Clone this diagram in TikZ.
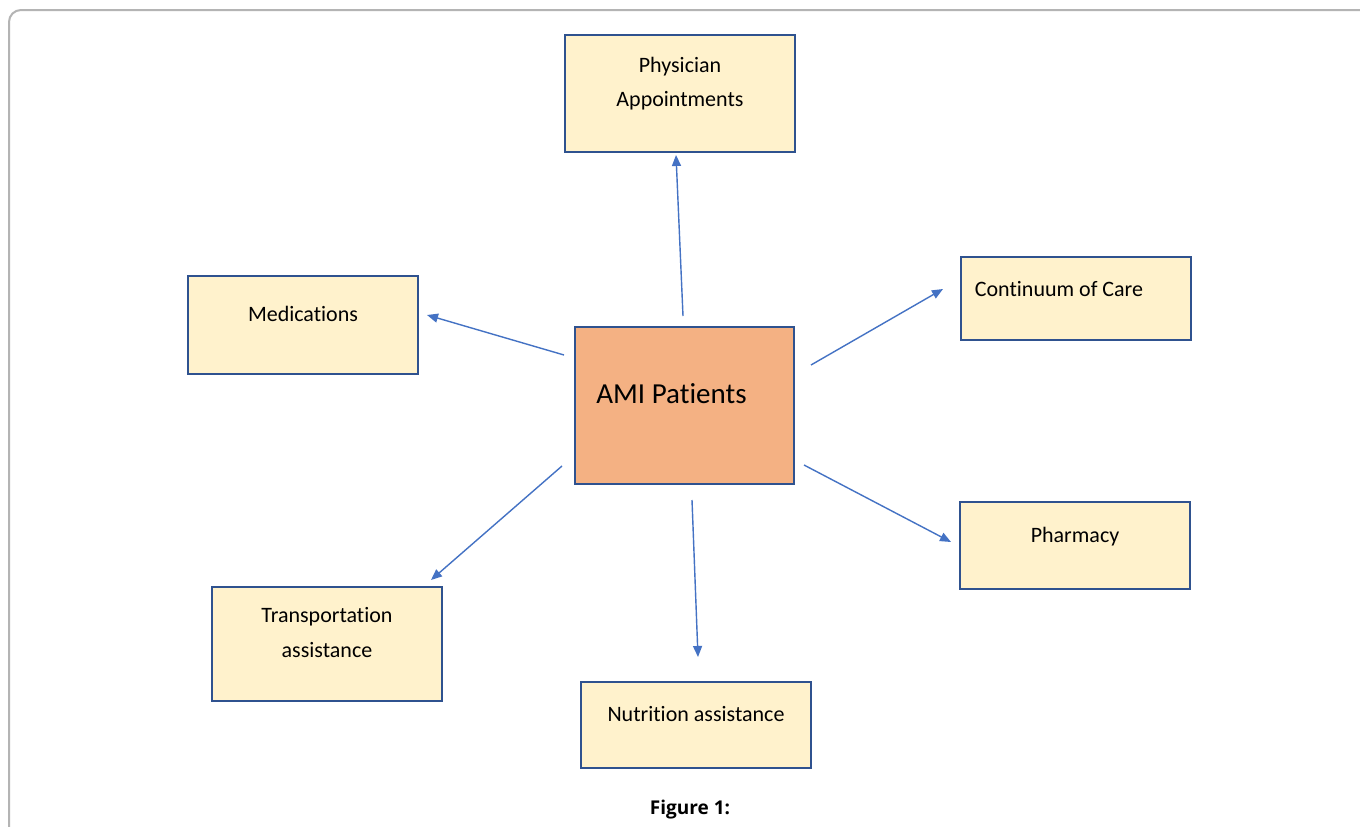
\documentclass[tikz,border=0pt]{standalone}
\usepackage{fontspec}
\setmainfont{Carlito}[Ligatures=NoCommon]
\newfontfamily\capfont{Open Sans}
\usetikzlibrary{arrows.meta}
\definecolor{boxline}{HTML}{2F528F}
\definecolor{boxfill}{HTML}{FFF2CC}
\definecolor{amifill}{HTML}{F4B183}
\definecolor{arrowblue}{HTML}{4472C4}
\definecolor{framegray}{HTML}{B4B4B4}
\tikzset{
  box/.style={draw=boxline, line width=1.6pt, fill=boxfill, inner sep=0pt},
  amibox/.style={draw=boxline, line width=1.6pt, fill=amifill, inner sep=0pt},
  txt/.style={anchor=base, inner sep=0pt, font=\fontsize{22}{24}\selectfont},
  link/.style={draw=arrowblue, line width=1.4pt, -{Triangle[length=11pt,width=9pt]}},
}
\begin{document}
\begin{tikzpicture}[x=1pt,y=-1pt]
\useasboundingbox (0,0) rectangle (1360,827);
\fill[white] (0,0) rectangle (1360,827);
% frame
\draw[framegray, line width=2pt, rounded corners=12pt] (9,830) -- (9,10) -- (1363,10);
% boxes
\node[box, minimum width=230pt, minimum height=117pt] (phys) at (680,93.5) {};
\node[box, minimum width=230pt, minimum height=98pt] (med) at (303,325) {};
\node[box, minimum width=230pt, minimum height=83pt] (cont) at (1076,298.5) {};
\node[amibox, minimum width=219pt, minimum height=157pt] (ami) at (684.5,405.5) {};
\node[box, minimum width=230pt, minimum height=87pt] (phar) at (1075,545.5) {};
\node[box, minimum width=230pt, minimum height=114pt] (trans) at (327,644) {};
\node[box, minimum width=230pt, minimum height=86pt] (nutr) at (696,725) {};
% texts
\node[txt] (physA) at (680,72) {Physician};
\node[txt] (physB) at (680,106.5) {Appointments};
\node[txt] (medt) at (303,321.5) {Medications};
\node[txt] (contt) at (1059,296) {Continuum of Care};
\node[txt, font=\fontsize{29}{32}\selectfont] (amit) at (671.5,403) {AMI Patients};
\node[txt] (phart) at (1075,542) {Pharmacy};
\node[txt] (transA) at (327,622.5) {Transportation};
\node[txt] (transB) at (327,657) {assistance};
\node[txt] (nutrt) at (696,721) {Nutrition assistance};
\node[anchor=base, inner sep=0pt, font=\capfont\bfseries\fontsize{19}{22}\selectfont] (cap) at (690,814.5) {Figure 1:};
% arrow end points
\coordinate (sUp) at (683,316);  \coordinate (eUp) at (676,155);
\coordinate (sMed) at (564,355); \coordinate (eMed) at (427,315);
\coordinate (sCon) at (811,365); \coordinate (eCon) at (943,289);
\coordinate (sPh) at (804,465);  \coordinate (ePh) at (951,542);
\coordinate (sTr) at (562,466);  \coordinate (eTr) at (431,580);
\coordinate (sNu) at (692,500);  \coordinate (eNu) at (698,657);
\draw[link] (sUp) -- (eUp);
\draw[link] (sMed) -- (eMed);
\draw[link] (sCon) -- (eCon);
\draw[link] (sPh) -- (ePh);
\draw[link] (sTr) -- (eTr);
\draw[link] (sNu) -- (eNu);
\end{tikzpicture}
\end{document}
